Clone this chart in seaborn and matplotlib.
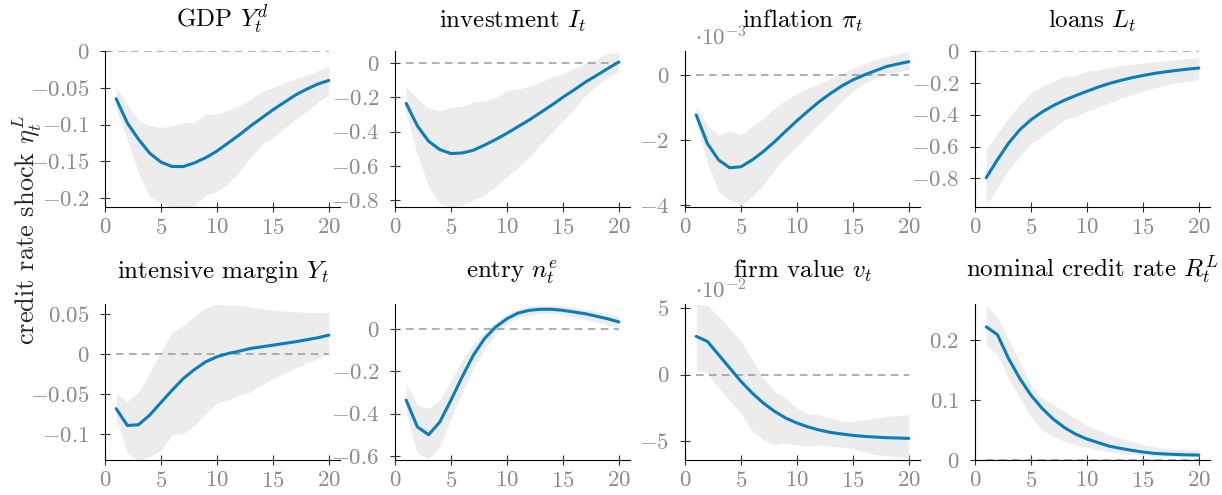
import numpy as np
import pandas as pd
import matplotlib
matplotlib.use("Agg")
import matplotlib.pyplot as plt
import seaborn as sns
from matplotlib.ticker import MultipleLocator, FuncFormatter

# ---------------- data ----------------
horizon = list(range(1, 21))

titles = [r"GDP $Y_t^d$", r"investment $I_t$", r"inflation $\pi_t$", r"loans $L_t$",
          r"intensive margin $Y_t$", r"entry $n_t^e$", r"firm value $v_t$",
          r"nominal credit rate $R_t^L$"]

gdp_med = [-0.065, -0.098, -0.120, -0.139, -0.151, -0.157, -0.157, -0.152, -0.145, -0.136,
           -0.125, -0.114, -0.102, -0.091, -0.080, -0.070, -0.060, -0.052, -0.045, -0.040]
gdp_hi = [-0.049, -0.073, -0.095, -0.101, -0.104, -0.102, -0.098, -0.097, -0.086, -0.086,
          -0.080, -0.074, -0.066, -0.055, -0.050, -0.043, -0.038, -0.033, -0.027, -0.020]
gdp_lo = [-0.080, -0.120, -0.166, -0.198, -0.207, -0.212, -0.213, -0.210, -0.196, -0.191,
          -0.180, -0.164, -0.145, -0.127, -0.118, -0.105, -0.093, -0.082, -0.070, -0.059]

inv_med = [-0.236, -0.367, -0.456, -0.505, -0.528, -0.525, -0.509, -0.479, -0.446, -0.410,
           -0.371, -0.332, -0.289, -0.246, -0.200, -0.157, -0.112, -0.073, -0.033, 0.006]
inv_hi = [-0.138, -0.210, -0.263, -0.279, -0.259, -0.255, -0.226, -0.220, -0.200, -0.161,
          -0.151, -0.138, -0.112, -0.083, -0.063, -0.033, 0.000, 0.020, 0.055, 0.065]
inv_lo = [-0.300, -0.534, -0.720, -0.820, -0.840, -0.830, -0.800, -0.770, -0.720, -0.662,
          -0.613, -0.550, -0.475, -0.407, -0.338, -0.269, -0.190, -0.132, -0.083, -0.053]

# inflation in units of 10^-3
infl_med = [-1.22, -2.10, -2.61, -2.85, -2.82, -2.61, -2.35, -2.05, -1.72, -1.40,
            -1.10, -0.81, -0.56, -0.33, -0.14, 0.01, 0.14, 0.27, 0.35, 0.42]
infl_hi = [-0.95, -1.53, -1.84, -1.72, -1.84, -1.58, -1.33, -1.02, -0.76, -0.56,
           -0.40, -0.25, -0.09, 0.06, 0.22, 0.37, 0.47, 0.58, 0.66, 0.73]
infl_lo = [-1.48, -2.71, -3.59, -3.85, -4.00, -3.74, -3.38, -2.92, -2.51, -2.20,
           -1.84, -1.48, -1.17, -0.81, -0.50, -0.25, -0.09, 0.01, 0.11, 0.16]

loan_med = [-0.796, -0.684, -0.579, -0.495, -0.432, -0.383, -0.343, -0.309, -0.280, -0.253,
            -0.227, -0.204, -0.185, -0.168, -0.154, -0.141, -0.131, -0.122, -0.114, -0.107]
loan_hi = [-0.620, -0.516, -0.421, -0.337, -0.263, -0.221, -0.190, -0.158, -0.154, -0.126,
           -0.120, -0.105, -0.090, -0.084, -0.078, -0.069, -0.063, -0.057, -0.048, -0.044]
loan_lo = [-0.968, -0.863, -0.747, -0.663, -0.583, -0.533, -0.484, -0.432, -0.411, -0.379,
           -0.352, -0.326, -0.295, -0.274, -0.253, -0.232, -0.217, -0.200, -0.189, -0.179]

int_med = [-0.068, -0.089, -0.088, -0.076, -0.0603, -0.0449, -0.0304, -0.0191, -0.0096, -0.0033,
           0.0008, 0.0037, 0.0071, 0.0091, 0.0112, 0.0133, 0.0154, 0.0179, 0.0204, 0.0237]
int_hi = [-0.049, -0.059, -0.047, -0.024, 0.003, 0.027, 0.036, 0.0466, 0.0578, 0.062,
          0.061, 0.061, 0.059, 0.057, 0.055, 0.0536, 0.053, 0.052, 0.0516, 0.0516]
int_lo = [-0.080, -0.124, -0.132, -0.128, -0.120, -0.101, -0.099, -0.0886, -0.074, -0.0615,
          -0.057, -0.051, -0.047, -0.0387, -0.0304, -0.0241, -0.0179, -0.0116, -0.0054, 0.0008]

entry_med = [-0.336, -0.463, -0.500, -0.440, -0.336, -0.226, -0.123, -0.044, 0.011, 0.050,
             0.077, 0.090, 0.095, 0.095, 0.090, 0.082, 0.074, 0.062, 0.050, 0.035]
entry_hi = [-0.258, -0.360, -0.376, -0.336, -0.242, -0.147, -0.068, -0.013, 0.032, 0.074,
            0.098, 0.111, 0.114, 0.114, 0.111, 0.103, 0.095, 0.085, 0.074, 0.063]
entry_lo = [-0.400, -0.590, -0.613, -0.558, -0.423, -0.297, -0.186, -0.092, -0.020, 0.027,
            0.054, 0.066, 0.074, 0.074, 0.070, 0.058, 0.047, 0.035, 0.022, 0.006]

# firm value in units of 10^-2
firm_med = [2.89, 2.51, 1.51, 0.50, -0.50, -1.38, -2.14, -2.76, -3.27, -3.64,
            -3.94, -4.17, -4.35, -4.47, -4.57, -4.65, -4.70, -4.75, -4.77, -4.80]
firm_hi = [5.33, 5.20, 4.40, 3.52, 2.51, 1.13, -0.25, -1.26, -1.76, -2.51,
           -2.96, -3.02, -3.27, -3.52, -3.52, -3.39, -3.27, -3.14, -3.07, -3.02]
firm_lo = [0.38, 0.13, -1.00, -2.00, -2.89, -4.27, -4.90, -5.28, -5.15, -5.28,
           -5.40, -5.28, -5.40, -5.48, -5.58, -5.78, -6.03, -6.08, -6.20, -6.33]

rate_med = [0.222, 0.209, 0.169, 0.136, 0.108, 0.086, 0.068, 0.054, 0.043, 0.035,
            0.029, 0.023, 0.0194, 0.0161, 0.0133, 0.0111, 0.0100, 0.0092, 0.0086, 0.0082]
rate_hi = [0.258, 0.239, 0.200, 0.164, 0.125, 0.103, 0.092, 0.081, 0.069, 0.058,
           0.050, 0.042, 0.036, 0.031, 0.025, 0.022, 0.019, 0.018, 0.017, 0.015]
rate_lo = [0.192, 0.175, 0.136, 0.103, 0.072, 0.050, 0.039, 0.031, 0.025, 0.021,
           0.017, 0.014, 0.011, 0.009, 0.008, 0.007, 0.0067, 0.006, 0.006, 0.0056]

medians = [gdp_med, inv_med, infl_med, loan_med, int_med, entry_med, firm_med, rate_med]
uppers = [gdp_hi, inv_hi, infl_hi, loan_hi, int_hi, entry_hi, firm_hi, rate_hi]
lowers = [gdp_lo, inv_lo, infl_lo, loan_lo, int_lo, entry_lo, firm_lo, rate_lo]
scales = [1, 1, 1e-3, 1, 1, 1, 1e-2, 1]
scale_labels = [None, None, r"$\cdot 10^{-3}$", None, None, None, r"$\cdot 10^{-2}$", None]
ytick_steps = [0.05, 0.2, 2, 0.2, 0.05, 0.2, 5, 0.1]
ylims = [(-0.212, 0.0), (-0.84, 0.07), (-4.06, 0.75), (-0.98, 0.0),
         (-0.132, 0.0625), (-0.62, 0.12), (-6.43, 5.33), (0.0, 0.26)]
zero_start = [0, 1, 1, 0, 1, 1, 1, 1]
ylabel = r"credit rate shock $\eta_t^L$"

# ---------------- style ----------------
sns.set_style("ticks")
plt.rcParams["font.family"] = ["cmr10", "DejaVu Serif"]
plt.rcParams["mathtext.fontset"] = "cm"
plt.rcParams["axes.unicode_minus"] = False
plt.rcParams["axes.formatter.use_mathtext"] = True

BLUE = "#0a7dbd"
BAND = "#ececec"
ZERO = "#9a9a9a"
TICKC = "#8a8a8a"
TICK_FS = 16.5
TITLE_FS = 18
YLABEL_FS = 19

fig = plt.figure(figsize=(12.22, 4.95), dpi=100)
W, H = 1222.0, 495.0
col_left = [105, 395, 685, 975]
row_top = [51, 304]
aw, ah = 235, 156


def make_fmt(scale):
    def f(v, pos):
        s = round(v / scale, 6)
        if abs(s) < 1e-9:
            s = 0.0
        return f"${s:g}$"
    return FuncFormatter(f)


for i in range(8):
    r, c = divmod(i, 4)
    left = col_left[c] / W
    bottom = 1 - (row_top[r] + ah) / H
    ax = fig.add_axes([left, bottom, aw / W, ah / H])
    sc = scales[i]
    med = np.array(medians[i]) * sc
    hi = np.array(uppers[i]) * sc
    lo = np.array(lowers[i]) * sc

    ax.fill_between(horizon, lo, hi, color=BAND, lw=0, zorder=1)
    ax.plot([zero_start[i], 20], [0, 0], color=ZERO, lw=1.1, ls=(0, (5, 3.5)), zorder=2)
    df = pd.DataFrame({"h": horizon, "v": med})
    sns.lineplot(data=df, x="h", y="v", ax=ax, color=BLUE, lw=2.2, zorder=3)

    ax.set_xlim(0, 21)
    ax.set_ylim(ylims[i][0] * sc, ylims[i][1] * sc)
    ax.set_xlabel("")
    ax.set_ylabel("")
    ax.set_xticks([0, 5, 10, 15, 20])
    ax.xaxis.set_major_formatter(FuncFormatter(lambda v, p: f"${int(round(v))}$"))
    ax.yaxis.set_major_locator(MultipleLocator(ytick_steps[i] * sc))
    ax.yaxis.set_major_formatter(make_fmt(sc))

    for s in ["top", "right"]:
        ax.spines[s].set_visible(False)
    for s in ["left", "bottom"]:
        ax.spines[s].set_color("black")
        ax.spines[s].set_linewidth(0.8)
    ax.tick_params(axis="both", direction="inout", length=7.5, width=0.8, color="#333333",
                   labelcolor=TICKC, labelsize=TICK_FS)
    ax.tick_params(axis="y", pad=7.5)
    ax.tick_params(axis="x", pad=4)

    ty = ((row_top[r] + ah) - (28 if r == 0 else 278)) / ah
    ax.set_title(titles[i], fontsize=TITLE_FS, y=ty, pad=0, color="black")
    if scale_labels[i]:
        ax.text(0.043, 1.038, scale_labels[i], transform=ax.transAxes, fontsize=TICK_FS,
                color=TICKC, ha="left", va="baseline")

fig.text(27 / W, 1 - 230 / H, ylabel, rotation=90, ha="center", va="center", fontsize=YLABEL_FS)

fig.savefig("out.png", dpi=100)
